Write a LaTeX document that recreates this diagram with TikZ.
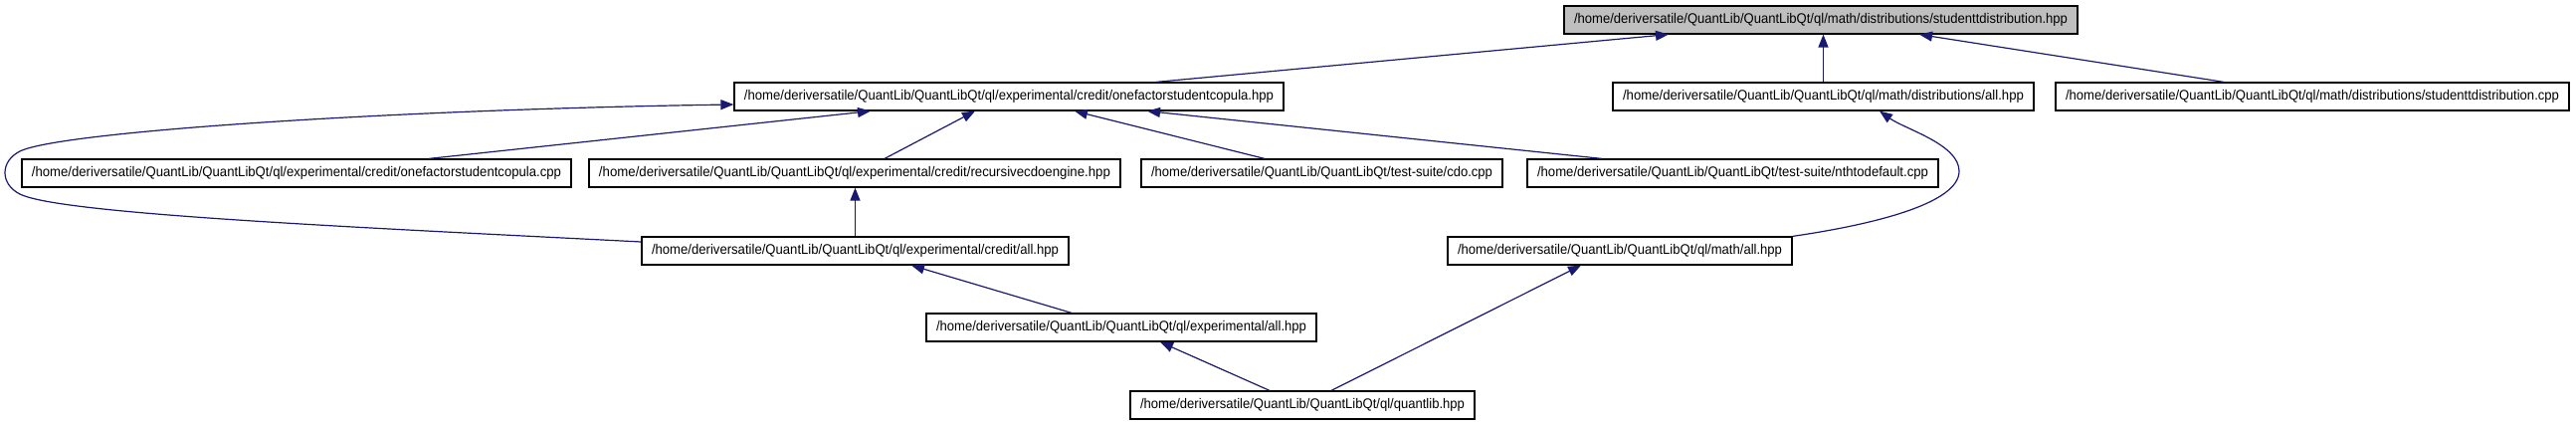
\documentclass[tikz,border=0pt]{standalone}
\usepackage{fontspec}
\setmainfont{Liberation Sans}
\usetikzlibrary{arrows.meta}
\definecolor{edgeblue}{RGB}{25,25,112}
\definecolor{rootgray}{RGB}{191,191,191}
\newcommand{\fitw}[2]{\resizebox{#1pt}{\height}{#2}}
\begin{document}
\begin{tikzpicture}[x=1pt,y=-1pt,
  box/.style={draw=black, line width=1.2pt, minimum height=28pt, inner sep=0pt, font=\fontsize{14}{16}\selectfont},
  edge/.style={draw=edgeblue, line width=1.2pt, -{Triangle[length=13pt,width=10pt]}}]
\useasboundingbox (0,0) rectangle (2589,427);
% nodes
\node[box, fill=rootgray, minimum width=516pt] (root) at (1830,20) {\fitw{496}{/home/deriversatile/QuantLib/QuantLibQt/ql/math/distributions/studenttdistribution.hpp}};
\node[box, minimum width=552pt] (ofh) at (1014,97) {\fitw{532}{/home/deriversatile/QuantLib/QuantLibQt/ql/experimental/credit/onefactorstudentcopula.hpp}};
\node[box, minimum width=423pt] (dist) at (1832.5,97) {\fitw{403}{/home/deriversatile/QuantLib/QuantLibQt/ql/math/distributions/all.hpp}};
\node[box, minimum width=516pt] (cpp) at (2324,97) {\fitw{496}{/home/deriversatile/QuantLib/QuantLibQt/ql/math/distributions/studenttdistribution.cpp}};
\node[box, minimum width=552pt] (ofc) at (298,174) {\fitw{532}{/home/deriversatile/QuantLib/QuantLibQt/ql/experimental/credit/onefactorstudentcopula.cpp}};
\node[box, minimum width=534pt] (rec) at (859,174) {\fitw{514}{/home/deriversatile/QuantLib/QuantLibQt/ql/experimental/credit/recursivecdoengine.hpp}};
\node[box, minimum width=363pt] (cdo) at (1328.5,174) {\fitw{343}{/home/deriversatile/QuantLib/QuantLibQt/test-suite/cdo.cpp}};
\node[box, minimum width=413pt] (nth) at (1741.5,174) {\fitw{393}{/home/deriversatile/QuantLib/QuantLibQt/test-suite/nthtodefault.cpp}};
\node[box, minimum width=429pt] (cred) at (859.5,252) {\fitw{409}{/home/deriversatile/QuantLib/QuantLibQt/ql/experimental/credit/all.hpp}};
\node[box, minimum width=346pt] (math) at (1628,252) {\fitw{326}{/home/deriversatile/QuantLib/QuantLibQt/ql/math/all.hpp}};
\node[box, minimum width=392pt] (exp) at (1127,329) {\fitw{372}{/home/deriversatile/QuantLib/QuantLibQt/ql/experimental/all.hpp}};
\node[box, minimum width=346pt] (ql) at (1309,407) {\fitw{326}{/home/deriversatile/QuantLib/QuantLibQt/ql/quantlib.hpp}};
% edges
\draw[edge] ([xshift=148]ofh.north) -- ([xshift=-153]root.south);
\draw[edge] (dist.north) -- (dist.north |- root.south);
\draw[edge] ([xshift=-89]cpp.north) -- ([xshift=99]root.south);
\draw[edge] ([xshift=133]ofc.north) -- ([xshift=-139]ofh.south);
\draw[edge] ([xshift=30]rec.north) -- ([xshift=-34]ofh.south);
\draw[edge] ([xshift=-57.5]cdo.north) -- ([xshift=66]ofh.south);
\draw[edge] ([xshift=-131.5]nth.north) -- ([xshift=139]ofh.south);
\draw[edge] ([yshift=9]cred.west) .. controls (350,228) and (60,215) .. (20,195) .. controls (0,185) and (0,162) .. (20,152) .. controls (60,132) and (400,110) .. ([yshift=-8]ofh.west);
\draw[edge] (cred.north) -- (cred.north |- rec.south);
\draw[edge] ([xshift=-50]exp.north) -- ([xshift=56.5]cred.south);
\draw[edge] ([xshift=-33]ql.north) -- ([xshift=39]exp.south);
\draw[edge] ([xshift=29]ql.north) -- ([xshift=-39]math.south);
\draw[edge] (math.north east) .. controls (1880,226) and (1969,205) .. (1969,172) .. controls (1969,145) and (1915,130) .. ([xshift=56.5]dist.south);
\end{tikzpicture}
\end{document}
